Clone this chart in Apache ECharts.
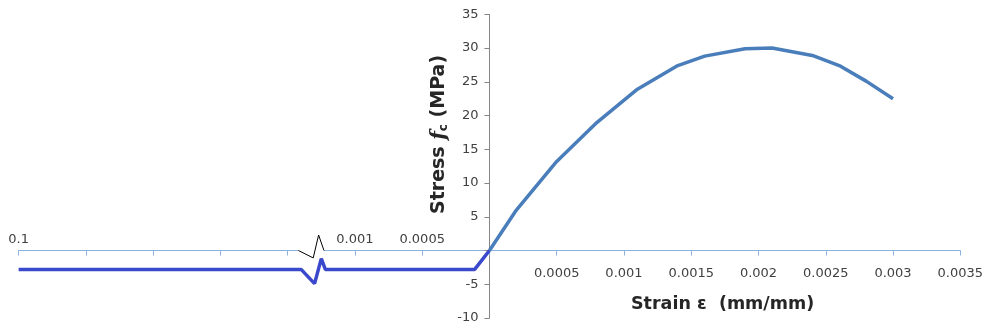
<!DOCTYPE html>
<html>
<head>
<meta charset="utf-8">
<script src="https://cdn.jsdelivr.net/npm/echarts@6/dist/echarts.min.js"></script>
<style>
html,body{margin:0;padding:0;background:#fff;}
#chart{width:984px;height:333px;}
</style>
</head>
<body>
<div id="chart"></div>
<script>
// Compression branch (strain mm/mm, stress MPa)
const compStrain = [0, 0.0002, 0.0005, 0.0008, 0.0011, 0.0014, 0.0016, 0.0019, 0.0021, 0.0024, 0.0026, 0.0028, 0.003];
const compStress = [0, 6.0, 13.2, 19.0, 23.9, 27.4, 28.8, 29.9, 30.0, 28.9, 27.4, 25.1, 22.5];
// Tension branch (broken axis, drawn on negative side)
const tensStrain = [-0.0035, -0.0014, -0.0013, -0.00125, -0.00122, -0.00011, 0];
const tensStress = [-2.8, -2.8, -4.9, -1.2, -2.8, -2.8, 0];
// Axis break symbol on the x axis
const breakStrain = [-0.00142, -0.00131, -0.00127, -0.00123];
const breakStress = [0, -1.1, 2.3, 0];
// Tick labels
const bottomTickLabels = ['', '', '', '', '', '', '', '', '0.0005', '0.001', '0.0015', '0.002', '0.0025', '0.003', '0.0035'];
const topTickLabels = ['0.1', '', '', '', '', '0.001', '0.0005', '', '', '', '', '', '', '', ''];
const yTickLabels = ['-10', '-5', '', '5', '10', '15', '20', '25', '30', '35'];

const pair = (xs, ys) => xs.map((x, i) => [x, ys[i]]);
const font = 'DejaVu Sans';
const W = 984, H = 333;
const G = { left: 18.6, right: 23.7, top: 14.3, bottom: 15 };
const xMin = -0.0035, xMax = 0.0035, yMin = -10, yMax = 35;
// offsets that place the axes at the origin (x = 0, y = 0)
const plotW = W - G.left - G.right, plotH = H - G.top - G.bottom;
const zeroDX = (0 - xMin) / (xMax - xMin) * plotW;   // from left edge of plot
const zeroDY = (yMax - 0) / (yMax - yMin) * plotH;   // from top edge of plot

const chart = echarts.init(document.getElementById('chart'));
chart.setOption({
  animation: false,
  grid: { left: G.left, right: G.right, top: G.top, bottom: G.bottom, containLabel: false, outerBoundsMode: 'none' },
  xAxis: [{
    type: 'value', min: xMin, max: xMax, interval: 0.0005, position: 'bottom', offset: -(plotH - zeroDY),
    axisLine: { onZero: false, lineStyle: { color: '#8DB3E2', width: 1 } },
    axisTick: { show: true, length: 5, lineStyle: { color: '#8DB3E2' } },
    splitLine: { show: false },
    axisLabel: {
      interval: 0, showMinLabel: true, showMaxLabel: true, margin: 17,
      color: '#404040', fontFamily: font, fontSize: 13,
      formatter: (v, i) => bottomTickLabels[i] || ''
    }
  }, {
    type: 'value', min: xMin, max: xMax, interval: 0.0005, position: 'top', offset: -zeroDY,
    axisLine: { show: false, onZero: false },
    axisTick: { show: false },
    splitLine: { show: false },
    axisLabel: {
      interval: 0, showMinLabel: true, showMaxLabel: true, margin: 4,
      color: '#404040', fontFamily: font, fontSize: 13,
      formatter: (v, i) => topTickLabels[i] || ''
    }
  }],
  yAxis: {
    type: 'value', min: yMin, max: yMax, interval: 5, position: 'left', offset: -zeroDX,
    axisLine: { show: true, onZero: false, lineStyle: { color: '#868686' } },
    axisTick: { show: true, length: 5, lineStyle: { color: '#868686' } },
    splitLine: { show: false },
    axisLabel: {
      margin: 11, color: '#404040', fontFamily: font, fontSize: 13,
      formatter: (v, i) => yTickLabels[i] || ''
    }
  },
  series: [{
    type: 'line', data: pair(compStrain, compStress), showSymbol: false,
    lineStyle: { color: '#4A7EBB', width: 3.5 }, z: 3
  }, {
    type: 'line', data: pair(tensStrain, tensStress), showSymbol: false,
    lineStyle: { color: '#3A48CC', width: 3.5 }, z: 4
  }, {
    type: 'line', data: pair([breakStrain[0], breakStrain[3]], [0, 0]), showSymbol: false,
    lineStyle: { color: '#ffffff', width: 3 }, z: 5
  }, {
    type: 'line', data: pair(breakStrain, breakStress), showSymbol: false,
    lineStyle: { color: '#000000', width: 1 }, z: 6
  }],
  graphic: [{
    type: 'text', left: 631, top: 295,
    style: { text: 'Strain ε  (mm/mm)', font: 'bold 17.5px "DejaVu Sans"', fill: '#262626' }
  }, {
    type: 'text', x: 429, y: 214, rotation: Math.PI / 2,
    style: {
      text: '{a|Stress }{i|f}{s|c}{a| (MPa)}', fill: '#262626',
      rich: {
        a: { fontFamily: font, fontWeight: 'bold', fontSize: 19, fill: '#262626' },
        i: { fontFamily: 'DejaVu Serif', fontStyle: 'italic', fontWeight: 'bold', fontSize: 20, fill: '#262626' },
        s: { fontFamily: font, fontWeight: 'bold', fontSize: 12, fill: '#262626', padding: [9, 0, 0, 0] }
      }
    }
  }]
});
</script>
</body>
</html>
